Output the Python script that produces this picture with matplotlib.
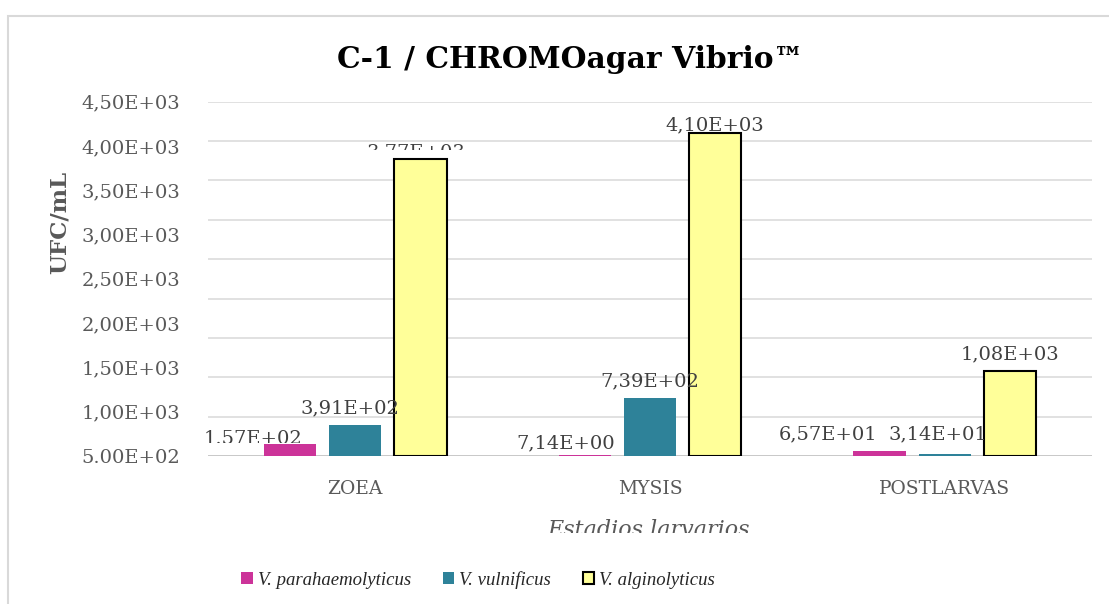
import numpy as np
import matplotlib
matplotlib.use("Agg")
import matplotlib.pyplot as plt
from matplotlib.patches import Rectangle
from matplotlib.transforms import Bbox

# Data
stages = ["ZOEA", "MYSIS", "POSTLARVAS"]
species = ["V. parahaemolyticus", "V. vulnificus", "V. alginolyticus"]
para = [157, 7.14, 65.7]
vuln = [391, 739, 31.4]
algi = [3770, 4100, 1080]
para_txt = ["1.57E+02", "7,14E+00", "6,57E+01"]
vuln_txt = ["3,91E+02", "7,39E+02", "3,14E+01"]
algi_txt = ["3,77E+03", "4,10E+03", "1,08E+03"]
# tick labels as printed (they do not sit on the gridlines in the original)
ytick_txt = ["5.00E+02", "1,00E+03", "1,50E+03", "2,00E+03", "2,50E+03",
             "3,00E+03", "3,50E+03", "4,00E+03", "4,50E+03"]

colors = ["#cc3399", "#2e8299", "#ffff99"]
edges = ["none", "none", "black"]
txtc = "#404040"
serif = ["DejaVu Serif"]

W, H = 1109, 604
fig = plt.figure(figsize=(W / 100, H / 100), dpi=100)
ax = fig.add_axes([208 / W, 1 - 456 / H, (1092 - 208) / W, (456 - 101.7) / H])

x = np.arange(len(stages))
bw = 0.177
step = 0.221
series = [para, vuln, algi]
texts = [para_txt, vuln_txt, algi_txt]
# label nudges in points (Excel pushed some labels sideways)
dx = [[-27, -14, -37], [-4, 0, -5], [-3, 0, 0]]
dy = [[-3.3, 2.5, 5.3], [5.3, 5.3, 7], [-1.9, -1, 5.3]]
# pixel rows (from the top) below which the original hides part of a label
clip_below = {(0, 0): 443, (2, 0): 150}

for i, (vals, lab) in enumerate(zip(series, texts)):
    pos = x + (i - 1) * step
    ax.bar(pos, vals, bw, color=colors[i], edgecolor=edges[i],
           linewidth=1.5 if edges[i] != "none" else 0, zorder=3, label=species[i])
    for j in range(len(vals)):
        t = ax.annotate(lab[j], (pos[j], vals[j]), xytext=(dx[i][j], dy[i][j]),
                        textcoords="offset points", ha="center", va="bottom",
                        fontsize=14, color=txtc, family=serif, zorder=4,
                        annotation_clip=False)
        if (i, j) in clip_below:
            t.set_clip_box(Bbox.from_extents(0, H - clip_below[(i, j)], W, H))
            t.set_clip_on(True)

ax.set_xlim(-0.5, 2.5)
ax.set_ylim(0, 4500)
for g in np.arange(500, 4501, 500):
    ax.axhline(g, color="#d9d9d9", lw=1.1, zorder=1)
ax.axhline(0, color="#c8c8c8", lw=1.4, zorder=2)

ax.set_yticks(np.linspace(0, 4500, len(ytick_txt)))
ax.set_yticklabels(ytick_txt, family=serif, fontsize=14, color="#595959")
ax.set_xticks(x)
ax.set_xticklabels(stages, family=serif, fontsize=13.5, color="#595959")
ax.tick_params(length=0)
ax.tick_params(axis="y", pad=20)
ax.tick_params(axis="x", pad=17)
for s in ax.spines.values():
    s.set_visible(False)

fig.text(60 / W, 1 - 222 / H, "UFC/mL", rotation=90, ha="center", va="center",
         fontsize=16.5, fontweight="bold", color="#595959", family=serif)
fig.text(570 / W, 1 - 60 / H, "C-1 / CHROMOagar Vibrio™", ha="center", va="center",
         fontsize=21.4, fontweight="bold", color="black", family=serif)
xl = fig.text(649 / W, 1 - 530 / H, "Estadios larvarios", ha="center", va="center",
              fontsize=16, style="italic", color="#595959", family=serif)
xl.set_clip_box(Bbox.from_extents(0, H - 533, W, H))
xl.set_clip_on(True)

leg = fig.legend(loc="center", bbox_to_anchor=(478 / W, 1 - 580 / H), ncol=3,
                 frameon=False, handlelength=0.6, handleheight=0.6,
                 handletextpad=0.27, columnspacing=1.7,
                 prop={"family": ["Liberation Serif"], "style": "italic", "size": 13.5})
for t in leg.get_texts():
    t.set_color("#262626")

fig.patches.append(Rectangle((8 / W, -0.1), 1.2, 1 - 16 / H + 0.1, transform=fig.transFigure,
                             fill=False, edgecolor="#d9d9d9", lw=1.5))

fig.savefig("out.png", dpi=100)
